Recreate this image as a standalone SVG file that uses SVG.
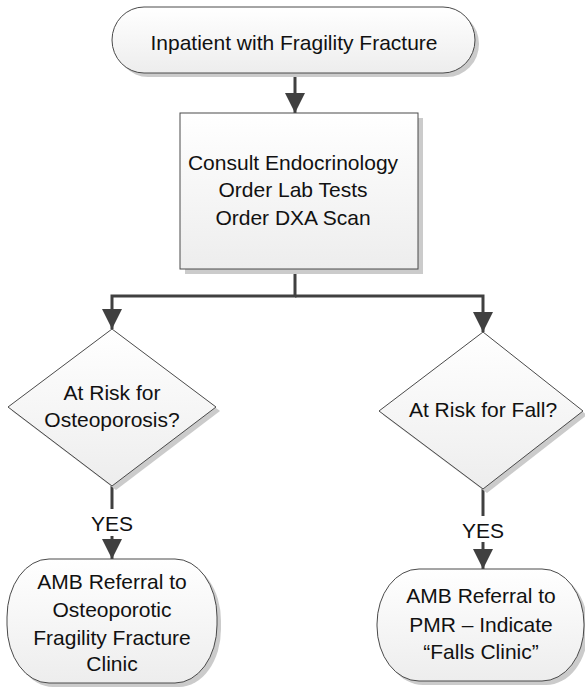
<svg xmlns="http://www.w3.org/2000/svg" width="585" height="687" viewBox="0 0 585 687">
<style>
.node{fill:url(#g);stroke:#4a4a4a;stroke-width:1}
.shadow{fill:#cbcbcb}
.t{font-family:"Liberation Sans",Arial,sans-serif;font-size:21px;fill:#111;text-anchor:middle}
.c{fill:none;stroke:#404040;stroke-width:3}
</style>
<defs>
<linearGradient id="g" x1="0" y1="0" x2="0" y2="1">
<stop offset="0" stop-color="#ffffff"/>
<stop offset="1" stop-color="#ededed"/>
</linearGradient>
<marker id="a" markerUnits="userSpaceOnUse" markerWidth="22" markerHeight="20" viewBox="0 0 22 20" refX="20" refY="10" orient="auto">
<path d="M0,0 L20,10 L0,20 Z" fill="#404040"/>
</marker>
</defs>
<g id="connectors">
<line class="c" x1="295" y1="73" x2="295" y2="113" marker-end="url(#a)"/>
<polyline class="c" points="295,269 295,296 112,296 112,329" marker-end="url(#a)"/>
<polyline class="c" points="295,296 483,296 483,332" marker-end="url(#a)"/>
<line class="c" x1="112" y1="486" x2="112" y2="509"/>
<line class="c" x1="112" y1="536" x2="112" y2="559" marker-end="url(#a)"/>
<text class="t" x="112" y="531">YES</text>
<line class="c" x1="483" y1="489" x2="483" y2="516"/>
<line class="c" x1="483" y1="542" x2="483" y2="569" marker-end="url(#a)"/>
<text class="t" x="483" y="538">YES</text>
</g>
<g id="start">
<rect class="shadow" x="116" y="11" width="363" height="66" rx="32" ry="33"/>
<rect class="node" x="112" y="7" width="363" height="66" rx="32" ry="33"/>
<text class="t" x="294" y="50">Inpatient with Fragility Fracture</text>
</g>
<g id="consult">
<rect class="shadow" x="185" y="118" width="238" height="156"/>
<rect class="node" x="180" y="113" width="238" height="156"/>
<text class="t" x="293" y="170">Consult Endocrinology</text>
<text class="t" x="293" y="197">Order Lab Tests</text>
<text class="t" x="293" y="225">Order DXA Scan</text>
</g>
<g id="osteo">
<polygon class="shadow" points="116,333 220,411 116,490 12,411"/>
<polygon class="node" points="112,329 216,407 112,486 8,407"/>
<text class="t" x="112" y="400">At Risk for</text>
<text class="t" x="112" y="427">Osteoporosis?</text>
</g>
<g id="fall">
<polygon class="shadow" points="487,336 587,415 487,493 383,415"/>
<polygon class="node" points="483,332 583,411 483,489 379,411"/>
<text class="t" x="483" y="417">At Risk for Fall?</text>
</g>
<g id="osteoclinic">
<rect class="shadow" x="11" y="563" width="210" height="124" rx="42" ry="58"/>
<rect class="node" x="7" y="559" width="210" height="124" rx="42" ry="58"/>
<text class="t" x="112" y="589">AMB Referral to</text>
<text class="t" x="112" y="617">Osteoporotic</text>
<text class="t" x="112" y="645">Fragility Fracture</text>
<text class="t" x="112" y="671">Clinic</text>
</g>
<g id="fallsclinic">
<rect class="shadow" x="381" y="573" width="207" height="112" rx="42" ry="55"/>
<rect class="node" x="377" y="569" width="207" height="112" rx="42" ry="55"/>
<text class="t" x="481" y="603">AMB Referral to</text>
<text class="t" x="481" y="632">PMR – Indicate</text>
<text class="t" x="481" y="659">“Falls Clinic”</text>
</g>
</svg>
